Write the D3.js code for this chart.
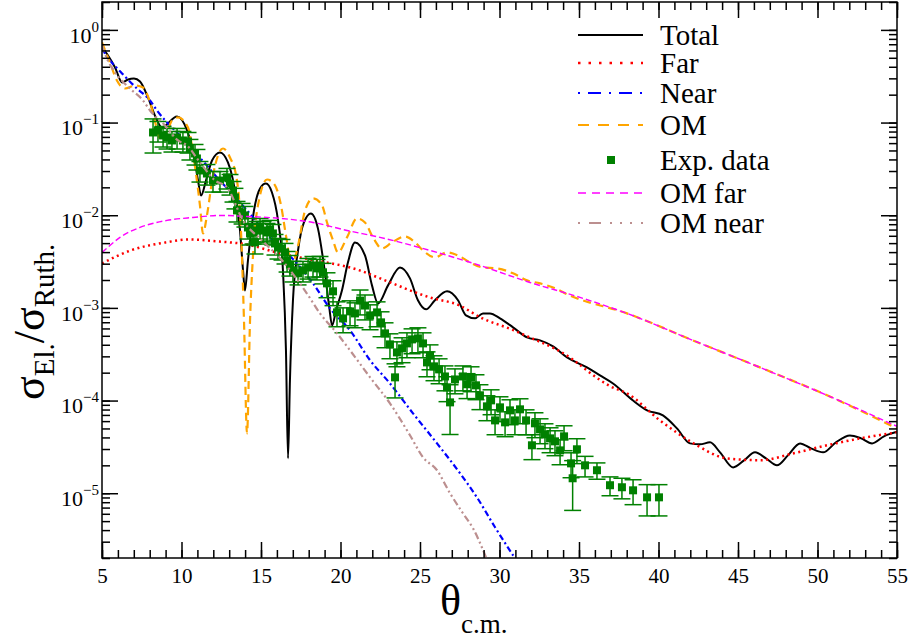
<!DOCTYPE html>
<html>
<head>
<meta charset="utf-8">
<script src="https://cdn.jsdelivr.net/npm/d3@7"></script>
<style>
  body { margin: 0; background: #fff; }
  svg { display: block; }
</style>
</head>
<body>
<div id="chart"></div>
<script>
// angle (deg, c.m.) vs sigma/sigma_Ruth
const totalCurve = [
  [5.0,0.646],[5.38,0.530],[5.82,0.393],[6.26,0.271],[6.64,0.292],[7.01,0.299],[7.39,0.277],[7.89,0.187],
  [8.33,0.119],[8.77,0.0885],[9.72,0.116],[10.35,0.0822],[10.72,0.050],[11.04,0.0237],[11.23,0.0163],
  [11.54,0.0237],[11.92,0.039],[12.42,0.0476],[12.92,0.0371],[13.30,0.0210],[13.68,6.85e-3],[13.87,2.54e-3],
  [13.99,1.54e-3],[14.18,3.26e-3],[14.56,0.01127],[14.94,0.01946],[15.31,0.0220],[15.69,0.0176],[16.07,8.79e-3],
  [16.38,2.54e-3],[16.57,3.48e-4],[16.70,2.38e-5],[16.82,1.65e-4],[17.01,1.21e-3],[17.33,4.17e-3],[17.70,8.36e-3],
  [18.14,0.01045],[18.58,7.21e-3],[18.96,2.87e-3],[19.28,1.06e-3],[19.47,6.47e-4],[19.72,9.4e-4],[20.09,1.54e-3],
  [20.47,3.10e-3],[20.91,5.09e-3],[21.54,3.68e-3],[21.98,1.75e-3],[22.36,1.12e-3],[22.99,1.75e-3],[23.74,2.73e-3],
  [24.37,2.08e-3],[24.87,1.21e-3],[25.38,9.64e-4],[25.94,1.21e-3],[26.70,1.51e-3],[27.39,1.21e-3],[27.89,8.30e-4],
  [28.46,7.71e-4],[28.96,8.72e-4],[29.40,8.72e-4],[30.03,7.71e-4],[30.85,6.17e-4],[31.73,4.81e-4],[32.55,4.46e-4],
  [33.37,3.85e-4],[34.25,2.92e-4],[35.50,2.28e-4],[36.32,1.87e-4],[37.14,1.53e-4],[38.40,1.00e-4],[39.28,7.84e-5],
  [40.28,6.92e-5],[41.16,5.01e-5],[41.98,3.45e-5],[42.61,3.37e-5],[43.24,3.54e-5],[43.87,2.76e-5],[44.69,1.90e-5],
  [45.38,2.26e-5],[46.07,2.76e-5],[46.76,2.38e-5],[47.45,2.00e-5],[48.14,2.56e-5],[48.90,3.45e-5],[49.59,3.05e-5],
  [50.35,2.76e-5],[51.16,3.54e-5],[52.04,4.21e-5],[52.74,3.91e-5],[53.43,3.45e-5],[54.18,4.11e-5],[55.0,4.6e-5]
]

const farCurve = [
  [5.0,3.02e-3],[6.8,4.17e-3],[9.0,5.09e-3],[10.5,5.48e-3],[12.4,5.2e-3],[14.1,4.84e-3],[16.2,3.87e-3],
  [18.1,3.33e-3],[21.2,2.54e-3],[22.5,2.08e-3],[25.6,1.30e-3],[27.5,1.06e-3],[28.8,7.9e-4],[30.9,5.73e-4],
  [31.9,4.81e-4],[33.8,3.40e-4],[37.1,1.39e-4],[38.0,1.20e-4],[40.1,6.1e-5],[42.2,3.46e-5],[44.3,2.38e-5],
  [46.4,2.27e-5],[48.5,2.70e-5],[50.6,3.29e-5],[52.7,3.91e-5],[55.0,4.54e-5]
]

const nearCurve = [
  [5.0,0.630],[5.19,0.556],[6.26,0.339],[7.20,0.233],[8.02,0.173],[8.46,0.135],[9.09,0.100],[9.78,0.0762],
  [10.41,0.0566],[11.60,0.0344],[12.23,0.0256],[13.18,0.0172],[14.12,0.01127],[15.57,5.77e-3],[17.26,3.02e-3],
  [18.27,1.84e-3],[19.34,9.88e-4],[20.60,5.72e-4],[21.86,2.72e-4],[23.11,1.53e-4],[24.56,7.28e-5],[26.07,3.45e-5],
  [27.52,1.64e-5],[28.58,9.03e-6],[29.72,4.29e-6],[30.97,1.99e-6]
]

const omCurve = [
  [5.0,0.731],[5.50,0.445],[5.94,0.285],[6.45,0.233],[7.08,0.251],[7.58,0.239],[8.02,0.165],[8.40,0.0931],
  [8.71,0.0641],[9.09,0.0782],[9.40,0.1054],[9.78,0.1136],[10.41,0.0885],[10.79,0.0390],[11.16,0.01276],
  [11.35,6.36e-3],[11.60,9.95e-3],[11.98,0.0269],[12.61,0.0525],[13.05,0.0420],[13.49,0.0237],[13.74,6.85e-3],
  [13.93,7.32e-4],[14.12,4.43e-5],[14.31,7.32e-4],[14.56,5.35e-3],[14.87,0.01445],[15.38,0.0243],[15.88,0.0210],
  [16.26,0.01276],[16.57,6.05e-3],[16.95,2.87e-3],[17.33,4.72e-3],[17.77,0.01127],[18.27,0.0152],[18.84,0.01276],
  [19.15,8.36e-3],[19.53,5.35e-3],[19.84,3.97e-3],[20.41,5.77e-3],[21.04,9.25e-3],[21.54,8.36e-3],[22.04,5.77e-3],
  [22.61,4.38e-3],[23.24,5.09e-3],[24.06,5.90e-3],[24.69,5.09e-3],[25.19,4.17e-3],[25.94,3.51e-3],[26.70,3.97e-3],
  [27.39,3.68e-3],[28.14,3.10e-3],[28.96,2.73e-3],[29.84,2.67e-3],[30.85,2.36e-3],[31.73,1.98e-3],[32.55,1.84e-3],
  [33.37,1.66e-3],[34.43,1.36e-3],[38.02,8.72e-4],[42.17,4.46e-4],[46.38,2.28e-4],[50.60,1.14e-4],[55.0,5.01e-5]
]

const omFarCurve = [
  [5.0,3.97e-3],[5.50,4.72e-3],[6.13,5.77e-3],[7.39,7.38e-3],[9.09,8.79e-3],[10.72,9.46e-3],[12.42,9.95e-3],
  [14.12,9.70e-3],[16.19,9.25e-3],[18.27,8.36e-3],[20.41,6.85e-3],[22.48,5.77e-3],[25.63,4.17e-3],[28.77,2.87e-3],
  [31.92,1.88e-3],[35.06,1.30e-3],[38.02,8.72e-4],[42.17,4.46e-4],[46.38,2.28e-4],[50.60,1.14e-4],[55.0,5.27e-5]
]

const omNearCurve = [
  [5.0,0.679],[5.31,0.491],[5.82,0.347],[6.76,0.233],[7.58,0.173],[8.02,0.135],[8.96,0.0931],[9.78,0.0641],
  [10.35,0.0566],[11.16,0.0371],[12.11,0.0237],[12.86,0.0200],[13.87,8.79e-3],[15.06,5.35e-3],[16.32,3.26e-3],
  [17.89,1.43e-3],[18.71,8.72e-4],[19.78,5.31e-4],[20.60,3.48e-4],[21.86,1.78e-4],[23.11,9.33e-5],[24.37,4.22e-5],
  [25.19,2.44e-5],[26.07,1.77e-5],[26.89,9.98e-6],[27.70,6.08e-6],[28.33,4.19e-6],[29.15,2.04e-6]
]

// [angle, sigma, relative error]
const expData = [
  [8.21,0.0782,0.4],[8.52,0.0822,0.25],[8.84,0.0726,0.25],[9.09,0.0691,0.25],[9.40,0.0641,0.25],[9.72,0.0691,0.25],
  [10.09,0.0641,0.25],[10.41,0.0625,0.25],[10.53,0.0526,0.25],[10.85,0.0464,0.25],[10.97,0.0410,0.25],
  [11.16,0.0304,0.25],[11.60,0.0282,0.25],[11.98,0.0237,0.25],[12.42,0.0237,0.25],[12.86,0.0256,0.25],
  [13.05,0.0220,0.25],[13.24,0.0185,0.25],[13.36,0.0156,0.25],[13.49,0.01127,0.25],[13.81,0.01072,0.25],
  [13.99,9.95e-3,0.25],[14.18,7.38e-3,0.25],[14.31,6.36e-3,0.25],[14.50,6.52e-3,0.25],[14.62,5.09e-3,0.25],
  [14.75,6.85e-3,0.25],[14.94,7.38e-3,0.25],[15.13,6.85e-3,0.25],[15.38,6.52e-3,0.25],[15.57,7.03e-3,0.25],
  [15.75,6.36e-3,0.25],[15.88,4.96e-3,0.25],[16.07,4.49e-3,0.25],[16.32,4.38e-3,0.25],[16.51,3.97e-3,0.25],
  [16.64,3.25e-3,0.25],[16.82,2.94e-3,0.25],[17.01,2.54e-3,0.25],[17.33,2.36e-3,0.25],[17.64,2.54e-3,0.25],
  [17.96,2.73e-3,0.25],[18.27,2.87e-3,0.25],[18.52,2.67e-3,0.25],[18.71,2.87e-3,0.25],[18.90,2.42e-3,0.25],
  [19.15,1.84e-3,0.3],[19.53,1.51e-3,0.3],[19.78,8.94e-4,0.3],[20.16,7.70e-4,0.3],[20.60,9.17e-4,0.3],
  [20.91,8.72e-4,0.3],[21.23,1.20e-3,0.3],[21.54,1.06e-3,0.3],[21.86,8.30e-4,0.3],[22.30,8.94e-4,0.3],
  [22.55,6.98e-4,0.3],[22.80,5.31e-4,0.3],[23.11,4.04e-4,0.3],[23.43,1.78e-4,0.4],[23.55,3.31e-4,0.3],
  [23.87,3.66e-4,0.3],[24.18,4.14e-4,0.3],[24.50,4.57e-4,0.3],[24.87,4.69e-4,0.3],[25.19,4.14e-4,0.3],
  [25.44,2.58e-4,0.3],[25.63,3.07e-4,0.3],[25.88,2.34e-4,0.3],[26.20,2.17e-4,0.3],[26.57,1.82e-4,0.3],
  [26.70,1.39e-4,0.3],[26.89,9.56e-5,0.55],[27.20,1.69e-4,0.3],[27.70,1.82e-4,0.3],[27.96,1.50e-4,0.3],
  [28.21,1.78e-4,0.3],[28.52,1.46e-4,0.3],[28.77,1.14e-4,0.3],[29.21,8.66e-5,0.3],[29.47,1.005e-4,0.3],
  [29.72,6.11e-5,0.3],[30.03,8.45e-5,0.3],[30.35,5.82e-5,0.3],[30.66,7.84e-5,0.3],[30.97,6.11e-5,0.3],
  [31.29,8.04e-5,0.3],[31.67,6.11e-5,0.3],[32.04,3.29e-5,0.3],[32.23,5.68e-5,0.3],[32.55,4.89e-5,0.3],
  [32.86,4.32e-5,0.3],[33.18,3.91e-5,0.3],[33.49,3.63e-5,0.3],[33.81,2.90e-5,0.3],[34.06,4.11e-5,0.3],
  [34.50,2.10e-5,0.3],[34.60,1.45e-5,0.55],[34.87,2.98e-5,0.3],[35.38,2.00e-5,0.25],[36.13,1.77e-5,0.2],
  [36.95,1.22e-5,0.23],[37.70,1.16e-5,0.25],[38.40,1.075e-5,0.3],[39.28,9.03e-6,0.37],[40.03,9.03e-6,0.37]
]

const xTicks = [5, 10, 15, 20, 25, 30, 35, 40, 45, 50, 55]
const yTicks = [1, 1e-1, 1e-2, 1e-3, 1e-4, 1e-5]
const legendLabels = ["Total", "Far", "Near", "OM", "Exp. data", "OM far", "OM near"]

const serif = '"Liberation Serif", "Times New Roman", serif'
const width = 911, height = 642
const plotLeft = 102, plotRight = 897, plotTop = 2, plotBottom = 558

const x = d3.scaleLinear().domain([5, 55]).range([plotLeft, plotRight])
const y = d3.scaleLog().domain([2e-6, 2]).range([plotBottom, plotTop])

const svg = d3.select("#chart").append("svg")
  .attr("width", width)
  .attr("height", height)

svg.append("defs").append("clipPath").attr("id", "plot")
  .append("rect")
  .attr("x", plotLeft).attr("y", plotTop)
  .attr("width", plotRight - plotLeft).attr("height", plotBottom - plotTop)

const line = d3.line()
  .x(d => x(d[0]))
  .y(d => y(d[1]))
  .curve(d3.curveMonotoneX)

// series styles, drawn in legend order
const series = [
  { data: totalCurve,  color: "#000000", dash: null,          legendDash: null,           w: 2 },
  { data: farCurve,    color: "#ff0000", dash: "2,3.5",       legendDash: "2.5,8",        w: 2.5 },
  { data: nearCurve,   color: "#0000ff", dash: "6,3,2,3",     legendDash: "2,8,13,8",     w: 2.2 },
  { data: omCurve,     color: "#ffa500", dash: "8,5",         legendDash: "11,9",         w: 2.2 },
  null,
  { data: omFarCurve,  color: "#ff00ff", dash: "6,3",         legendDash: "8,6",          w: 1.4 },
  { data: omNearCurve, color: "#bc8f8f", dash: "7,3,2,3,2,3", legendDash: "2,9,12,9,2,8,2,8", w: 2.2 }
]

const plot = svg.append("g").attr("clip-path", "url(#plot)")

function drawCurve(s) {
  plot.append("path")
    .datum(s.data)
    .attr("fill", "none")
    .attr("stroke", s.color)
    .attr("stroke-width", s.w)
    .attr("stroke-dasharray", s.dash)
    .attr("d", line)
}

function drawExp() {
  const g = plot.append("g").attr("stroke", "#008000").attr("stroke-width", 1.5)
  const pts = g.selectAll("g").data(expData).join("g")
  pts.append("line")
    .attr("x1", d => x(d[0])).attr("x2", d => x(d[0]))
    .attr("y1", d => y(d[1] * (1 + d[2]))).attr("y2", d => y(d[1] * (1 - d[2])))
  pts.append("line")
    .attr("x1", d => x(d[0]) - 8.5).attr("x2", d => x(d[0]) + 8.5)
    .attr("y1", d => y(d[1] * (1 + d[2]))).attr("y2", d => y(d[1] * (1 + d[2])))
  pts.append("line")
    .attr("x1", d => x(d[0]) - 8.5).attr("x2", d => x(d[0]) + 8.5)
    .attr("y1", d => y(d[1] * (1 - d[2]))).attr("y2", d => y(d[1] * (1 - d[2])))
  pts.append("rect")
    .attr("x", d => x(d[0]) - 4).attr("y", d => y(d[1]) - 4)
    .attr("width", 8).attr("height", 8)
    .attr("fill", "#008000").attr("stroke", "none")
}

series.forEach(s => {
  if (s) drawCurve(s)
  else drawExp()
})

// axes, ticks pointing inward on all four sides
const xMinor = d3.range(5, 56, 1)
const yMinor = y.ticks()

function noDomain(g) { g.select(".domain").remove() }

svg.append("g").attr("transform", `translate(0,${plotBottom})`)
  .call(d3.axisBottom(x).tickValues(xMinor).tickSize(-8).tickSizeOuter(0).tickFormat(""))
  .call(noDomain)
const xMajor = svg.append("g").attr("transform", `translate(0,${plotBottom})`)
  .call(d3.axisBottom(x).tickValues(xTicks).tickSize(-16).tickSizeOuter(0).tickPadding(10).tickFormat(d3.format("d")))
  .call(noDomain)

svg.append("g").attr("transform", `translate(0,${plotTop})`)
  .call(d3.axisTop(x).tickValues(xMinor).tickSize(-8).tickSizeOuter(0).tickFormat(""))
  .call(noDomain)
svg.append("g").attr("transform", `translate(0,${plotTop})`)
  .call(d3.axisTop(x).tickValues(xTicks).tickSize(-16).tickSizeOuter(0).tickFormat(""))
  .call(noDomain)

svg.append("g").attr("transform", `translate(${plotLeft},0)`)
  .call(d3.axisLeft(y).tickValues(yMinor).tickSize(-8).tickSizeOuter(0).tickFormat(""))
  .call(noDomain)
const yMajor = svg.append("g").attr("transform", `translate(${plotLeft},0)`)
  .call(d3.axisLeft(y).tickValues(yTicks).tickSize(-16).tickSizeOuter(0).tickPadding(3))
  .call(noDomain)

svg.append("g").attr("transform", `translate(${plotRight},0)`)
  .call(d3.axisRight(y).tickValues(yMinor).tickSize(-8).tickSizeOuter(0).tickFormat(""))
  .call(noDomain)
svg.append("g").attr("transform", `translate(${plotRight},0)`)
  .call(d3.axisRight(y).tickValues(yTicks).tickSize(-16).tickSizeOuter(0).tickFormat(""))
  .call(noDomain)

xMajor.selectAll(".tick text")
  .attr("font-size", 21)
  .attr("fill", "#000")

yMajor.selectAll(".tick text")
  .attr("font-size", 22)
  .attr("fill", "#000")
  .attr("dy", "0.55em")
  .each(function (d) {
    const t = d3.select(this)
    t.text("10")
    t.append("tspan")
      .attr("dy", -11)
      .attr("font-size", 15)
      .text(String(Math.round(Math.log10(d))).replace("-", "\u2212"))
  })

svg.selectAll(".tick line").attr("stroke", "#000").attr("stroke-width", 1.5)

svg.append("rect")
  .attr("x", plotLeft).attr("y", plotTop)
  .attr("width", plotRight - plotLeft).attr("height", plotBottom - plotTop)
  .attr("fill", "none")
  .attr("stroke", "#000")
  .attr("stroke-width", 1.5)

// legend
const legendY = [35, 63, 93, 125, 160, 193, 223]
const legend = svg.append("g")
legendLabels.forEach((label, i) => {
  const s = series[i]
  const ly = legendY[i]
  if (s) {
    legend.append("line")
      .attr("x1", 578).attr("x2", 643)
      .attr("y1", ly).attr("y2", ly)
      .attr("stroke", s.color)
      .attr("stroke-width", s.w)
      .attr("stroke-dasharray", s.legendDash)
  } else {
    legend.append("rect")
      .attr("x", 607).attr("y", ly - 4)
      .attr("width", 8).attr("height", 8)
      .attr("fill", "#008000")
  }
  legend.append("text")
    .attr("x", 660).attr("y", ly + 10)
    .attr("font-size", 29)
    .attr("fill", "#000")
    .text(label)
})

// axis titles
const xt = svg.append("text")
  .attr("x", 440).attr("y", 615)
  .attr("font-size", 44)
  .attr("fill", "#000")
xt.append("tspan").text("θ")
xt.append("tspan").attr("font-size", 27).attr("dy", 18).text("c.m.")

const yt = svg.append("text")
  .attr("transform", "translate(44,400) rotate(-90)")
  .attr("font-size", 44)
  .attr("fill", "#000")
yt.append("tspan").text("σ")
yt.append("tspan").attr("font-size", 29).attr("dy", 10).text("El.")
yt.append("tspan").attr("dy", -10).text("/σ")
yt.append("tspan").attr("font-size", 29).attr("dy", 10).text("Ruth.")

// serif face everywhere, set inline so nothing overrides it
svg.selectAll("g").attr("font-family", null)
svg.selectAll("text").style("font-family", serif)
</script>
</body>
</html>
